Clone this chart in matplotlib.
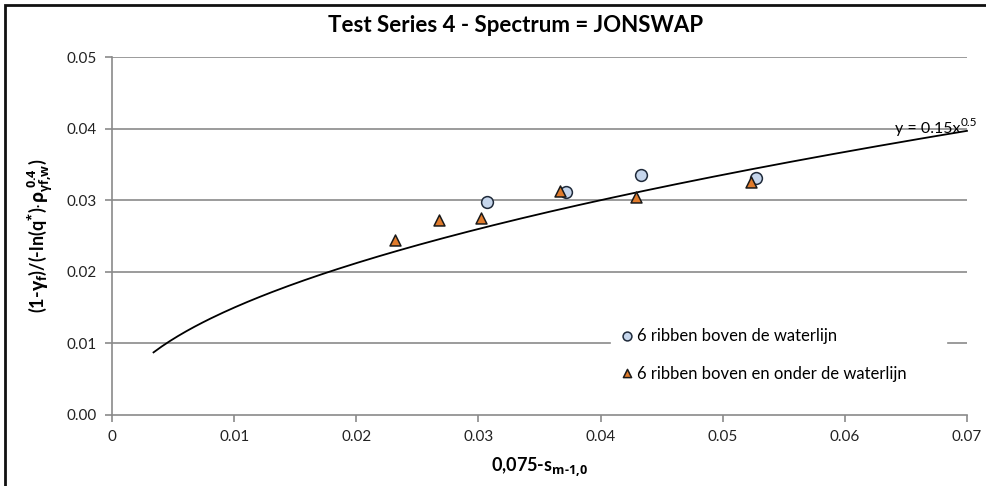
"""Test Series 4 - JONSWAP spectrum, reduction factor vs steepness."""

import matplotlib

matplotlib.use("Agg")
import matplotlib.pyplot as plt
import numpy as np
from matplotlib.patches import Rectangle
from matplotlib.ticker import FuncFormatter

plt.rcParams["font.family"] = ["Lato", "DejaVu Sans"]
plt.rcParams["mathtext.fontset"] = "custom"
plt.rcParams["mathtext.rm"] = "Open Sans:bold"
plt.rcParams["mathtext.it"] = "Open Sans:bold"
plt.rcParams["mathtext.bf"] = "Open Sans:bold"
plt.rcParams["mathtext.fallback"] = "stixsans"

# series: 6 ribben boven de waterlijn
above_x = [0.0307, 0.0372, 0.0433, 0.0527]
above_y = [0.0297, 0.0312, 0.0335, 0.0331]

# series: 6 ribben boven en onder de waterlijn
both_x = [0.0232, 0.0268, 0.0302, 0.0367, 0.0429, 0.0523]
both_y = [0.0244, 0.0273, 0.0275, 0.0313, 0.0305, 0.0326]

# power trendline y = a * x^b
trend_a = 0.15
trend_b = 0.5
trend_range = (0.0034, 0.07)

x_ticks = [0, 0.01, 0.02, 0.03, 0.04, 0.05, 0.06, 0.07]
y_ticks = [0.00, 0.01, 0.02, 0.03, 0.04, 0.05]

fig = plt.figure(figsize=(9.86, 4.86), dpi=100)
ax = fig.add_axes([0.1136, 0.1461, 0.8671, 0.7366])

grid_col = "#8a8a8a"
for y in y_ticks[1:]:
    if y == 0.01:
        # legend box hides the middle of this gridline
        ax.axhline(y, xmax=0.582, color=grid_col, lw=1.2, zorder=1)
        ax.axhline(y, xmin=0.978, color=grid_col, lw=1.2, zorder=1)
    else:
        ax.axhline(y, color=grid_col, lw=1.2, zorder=1)

tx = np.linspace(trend_range[0], trend_range[1], 200)
ax.plot(tx, trend_a * tx ** trend_b, color="black", lw=1.3, zorder=2, clip_on=False)

ax.scatter(above_x, above_y, s=72, marker="o", facecolor="#c6d6ec",
           edgecolor="#1f2a3a", linewidth=1.1, zorder=3,
           label="6 ribben boven de waterlijn")
ax.scatter(both_x, both_y, s=62, marker="^", facecolor="#e07b2c",
           edgecolor="#1a1a1a", linewidth=1.1, zorder=4,
           label="6 ribben boven en onder de waterlijn")

ax.set_xlim(x_ticks[0], x_ticks[-1])
ax.set_ylim(y_ticks[0], y_ticks[-1])
ax.set_xticks(x_ticks)
ax.set_yticks(y_ticks)
ax.xaxis.set_major_formatter(FuncFormatter(lambda v, p: "0" if v == 0 else f"{v:.2f}"))
ax.yaxis.set_major_formatter(FuncFormatter(lambda v, p: f"{v:.2f}"))

for side in ("top", "right"):
    ax.spines[side].set_visible(False)
for side in ("left", "bottom"):
    ax.spines[side].set_color(grid_col)
    ax.spines[side].set_linewidth(1.2)
ax.tick_params(direction="out", length=5, width=1.2, color=grid_col,
               labelsize=11, labelcolor="#222222", pad=6)

fig.text(0.523, 0.948, "Test Series 4 - Spectrum = JONSWAP", fontsize=16,
         fontweight="bold", ha="center", va="center")
ax.set_xlabel(r"0,075-s$_{\text{m-1,0}}$", fontsize=13, fontweight="bold", labelpad=8)
ax.set_ylabel(r"(1-$\gamma_{\text{f}}$)/(-ln(q$^{*}$)$\cdot\rho_{\gamma\text{f,w}}^{\;0.4}$)",
              fontsize=13, fontweight="bold", labelpad=8)

eq = ax.text(0.0641, 0.0394, "y = 0.15x", fontsize=11.5, ha="left",
             va="baseline", zorder=5, clip_on=False)
ax.annotate(f"{trend_b}", xy=(1, 0.55), xycoords=eq, fontsize=8.5,
            ha="left", va="bottom", annotation_clip=False, zorder=5)

leg = ax.legend(loc="lower left", bbox_to_anchor=(0.575, 0.05), frameon=False,
                fontsize=12, handletextpad=0.1, labelspacing=1.3,
                borderpad=0.4, handlelength=1.0, scatteryoffsets=[0.5],
                markerscale=0.75)

fig.patches.append(Rectangle((0.005, -0.1), 1.2, 1.09, transform=fig.transFigure,
                             fill=False, edgecolor="#111111", lw=2))

fig.savefig("out.png", dpi=100)
